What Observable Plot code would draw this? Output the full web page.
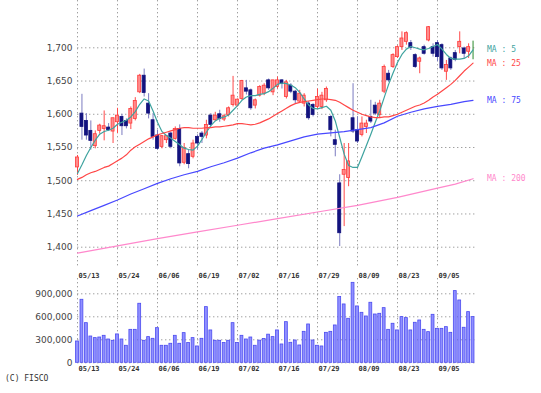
<!DOCTYPE html>
<html><head><meta charset="utf-8">
<script src="https://cdn.jsdelivr.net/npm/d3@7"></script>
<script src="https://cdn.jsdelivr.net/npm/@observablehq/plot@0.6"></script>
<style>
body{margin:0;background:#fff;}
#wrap{position:relative;width:541px;height:393px;background:#fff;overflow:hidden;}
#wrap svg{position:absolute;left:0;}
#copy{position:absolute;left:5px;top:374px;font:8px "DejaVu Sans Mono",monospace;line-height:10px;color:#333;}
</style></head><body><div id="wrap"><div id="copy">(C) FISCO</div></div>
<script>
const tickIdx = [0, 9, 18, 27, 36, 45, 54, 63, 72, 81];
const tickLabels = ["05/13","05/24","06/06","06/19","07/02","07/16","07/29","08/09","08/23","09/05"];
const priceTicks = [1400, 1450, 1500, 1550, 1600, 1650, 1700];
const volTicks = [0, 300000, 600000, 900000];

const open = [1520,1601,1590,1575,1552,1575,1578,1580,1574,1588, 1596,1590,1586,1593,1633,1658,1616,1591,1568,1551, 1561,1571,1563,1578,1527,1540,1536,1566,1571,1568, 1598,1591,1600,1592,1599,1614,1613,1623,1639,1636, 1613,1628,1631,1651,1633,1641,1651,1626,1643,1634, 1619,1616,1616,1614,1611,1611,1621,1596,1561,1496, 1509,1504,1594,1576,1569,1581,1596,1613,1599,1634, 1661,1671,1686,1701,1709,1707,1689,1679,1701,1711, 1701,1707,1704,1664,1684,1692,1701,1699,1694,1698];
const high = [1538,1630,1601,1590,1575,1585,1605,1586,1594,1609, 1600,1593,1611,1625,1660,1668,1631,1601,1576,1568, 1568,1573,1581,1584,1556,1546,1561,1569,1574,1591, 1601,1603,1606,1600,1611,1657,1623,1651,1651,1638, 1623,1643,1646,1653,1651,1656,1652,1651,1646,1636, 1636,1631,1619,1616,1638,1633,1641,1598,1576,1509, 1556,1556,1646,1596,1596,1591,1621,1618,1621,1674, 1666,1691,1703,1724,1724,1711,1691,1686,1704,1732, 1706,1711,1706,1681,1686,1696,1724,1701,1706,1710];
const low = [1508,1561,1561,1546,1548,1570,1560,1574,1556,1571, 1568,1578,1577,1590,1631,1626,1593,1561,1546,1548, 1556,1548,1561,1521,1524,1518,1533,1546,1556,1563, 1581,1589,1588,1589,1596,1611,1611,1621,1629,1606, 1608,1626,1628,1636,1628,1638,1638,1623,1631,1616, 1616,1611,1591,1596,1608,1607,1618,1566,1536,1401, 1431,1491,1571,1556,1566,1571,1586,1598,1594,1631, 1648,1669,1684,1696,1704,1696,1669,1661,1689,1709, 1686,1679,1666,1651,1666,1679,1691,1684,1684,1682];
const close = [1535,1581,1568,1560,1570,1583,1582,1576,1594,1598, 1582,1582,1608,1620,1658,1632,1601,1566,1548,1567, 1567,1551,1578,1526,1549,1525,1556,1556,1566,1584, 1584,1598,1593,1597,1609,1628,1622,1650,1634,1609, 1621,1641,1643,1639,1651,1651,1646,1648,1634,1621, 1631,1628,1594,1599,1626,1628,1638,1576,1554,1421, 1516,1529,1574,1559,1586,1586,1589,1601,1616,1671, 1651,1689,1701,1714,1722,1700,1671,1684,1691,1731, 1691,1686,1669,1674,1669,1682,1709,1691,1701,1698];
const volume = [278000,822000,517000,343000,322000,330000,352000,304000,287000,370000, 304000,222000,430000,430000,770000,287000,335000,313000,452000,222000, 222000,248000,352000,248000,387000,257000,322000,213000,313000,726000, 422000,287000,287000,257000,287000,517000,257000,352000,304000,330000, 222000,289000,311000,367000,335000,422000,239000,530000,261000,291000, 226000,404000,500000,291000,222000,213000,391000,404000,487000,857000, 761000,574000,1043000,735000,652000,604000,783000,630000,639000,713000, 430000,509000,422000,596000,583000,422000,522000,552000,430000,400000, 626000,443000,443000,465000,391000,935000,813000,457000,661000,596000];
const ma5 = [1511,1524,1538,1550,1561,1570,1574,1576,1579,1585, 1588,1591,1596,1604,1615,1623,1620,1605,1588,1574, 1568,1564,1559,1554,1549,1547,1546,1552,1562,1573, 1583,1590,1594,1596,1599,1606,1613,1621,1626,1628, 1628,1630,1631,1634,1639,1645,1647,1646,1644,1640, 1633,1623,1614,1609,1608,1610,1612,1606,1590,1565, 1540,1523,1520,1520,1536,1553,1570,1588,1605,1625, 1645,1662,1678,1690,1698,1702,1700,1698,1697,1699, 1702,1705,1698,1690,1684,1683,1683,1684,1688,1697];
const ma25 = [1502,1505,1509,1512,1514,1517,1520,1522,1526,1530, 1534,1539,1546,1551,1555,1559,1563,1566,1569,1571, 1573,1575,1577,1579,1580,1580,1579,1579,1579,1580, 1580,1581,1581,1582,1583,1584,1586,1586,1585,1584, 1585,1587,1590,1593,1597,1601,1605,1609,1613,1616, 1618,1619,1620,1621,1622,1623,1623,1622,1621,1618, 1614,1610,1606,1603,1600,1598,1596,1595,1595,1596, 1596,1598,1600,1603,1606,1609,1612,1614,1617,1621, 1626,1630,1635,1640,1645,1651,1658,1665,1671,1677];
const ma75Idx = [0,3,6,9,12,15,18,21,24,27,30,33,36,39,42,45,48,51,54,57,60,63,66,69,72,75,78,81,84,87,89];
const ma75 = [1447,1455,1463,1471,1480,1488,1496,1503,1509,1514,1521,1527,1534,1542,1549,1554,1560,1566,1570,1572,1574,1577,1580,1587,1597,1603,1608,1612,1615,1619,1621];
const ma200Idx = [0,9,18,27,36,45,54,63,72,81,85,89];
const ma200 = [1391,1402,1413,1423,1433,1443,1453,1463,1475,1489,1495,1503];
const maNames = ["MA : 5","MA : 25","MA : 75","MA : 200"];
const maColors = ["#3ea39f","#ff4747","#4848ff","#ff88cc"];

const candles = open.map((o, i) => ({i, open: o, high: high[i], low: low[i], close: close[i],
  dir: close[i] > o ? "up" : close[i] < o ? "down" : "flat"}));
const wickColor = {up: "#ff4a4a", down: "#7b7bc0", flat: "#2a8a2a"};
const bodyFill = {up: "#ff8c8c", down: "#12127e", flat: "#2a8a2a"};
const bodyStroke = {up: "#ff3838", down: "#12127e", flat: "#2a8a2a"};
const series = (arr, idx) => arr.map((v, k) => ({i: idx ? idx[k] : k, v}));
const maSeries = [series(ma5), series(ma25), series(ma75, ma75Idx), series(ma200, ma200Idx)];
const maEnds = maSeries.map((s, k) => ({i: s[s.length - 1].i, v: s[s.length - 1].v, label: maNames[k], color: maColors[k]}));
const grid = {stroke: "#a0a0a0", strokeDasharray: "1.4,2.6", strokeWidth: 1};

const p1 = Plot.plot({
  width: 541, height: 282, marginTop: 0, marginBottom: 14, marginLeft: 77, marginRight: 64,
  x: {domain: [0, 90], range: [77, 477], label: null},
  y: {domain: [1400, 1700], range: [246.7, 47.3], label: null},
  color: {type: "identity"},
  style: {background: "transparent", overflow: "visible"},
  marks: [
    Plot.ruleY(priceTicks, {y: d => d, x1: 0, x2: 90, ...grid}),
    Plot.ruleX(tickIdx, {x: d => d, ...grid}),
    Plot.axisY(priceTicks, {label: null, tickSize: 0, tickPadding: 5, tickFormat: d3.format(","), fontSize: 9, fontFamily: "DejaVu Sans", fill: "#444"}),
    Plot.axisX(tickIdx, {label: null, tickSize: 0, tickPadding: 5, tickFormat: d => tickLabels[tickIdx.indexOf(d)], textAnchor: "start", dx: 1, fontSize: 7, fontWeight: "bold", fontFamily: "DejaVu Sans Mono", fill: "#333"}),
    Plot.ruleX(candles, {x: "i", y1: "low", y2: "high", stroke: d => wickColor[d.dir], strokeWidth: 1}),
    Plot.rect(candles, {x1: d => d.i - 0.34, x2: d => d.i + 0.34, y1: "open", y2: "close", fill: d => bodyFill[d.dir], stroke: d => bodyStroke[d.dir], strokeWidth: 0.8}),
    ...maSeries.map((s, k) => Plot.line(s, {x: "i", y: "v", stroke: maColors[k], strokeWidth: 1.2})),
    Plot.text(maEnds, {x: "i", y: "v", text: "label", fill: "color", dx: 14, textAnchor: "start", fontSize: 8, fontFamily: "DejaVu Sans Mono"})
  ]
});
p1.style.top = "0px";

const vols = volume.map((v, i) => ({i, v}));
const p2 = Plot.plot({
  width: 541, height: 125, marginTop: 10, marginBottom: 30.7, marginLeft: 77, marginRight: 64,
  x: {domain: [0, 90], range: [77, 477], label: null},
  y: {domain: [0, 900000], range: [94.3, 25.3], label: null},
  style: {background: "transparent", overflow: "visible"},
  marks: [
    Plot.ruleY(volTicks, {y: d => d, x1: 0, x2: 90, ...grid}),
    Plot.ruleX(tickIdx, {x: d => d, ...grid}),
    Plot.rect(vols, {x1: d => d.i - 0.32, x2: d => d.i + 0.32, y1: 0, y2: "v", fill: "#9090ff", stroke: "#4a4af0", strokeWidth: 0.8}),
    Plot.axisY(volTicks, {label: null, tickSize: 0, tickPadding: 5, tickFormat: d3.format(","), fontSize: 9, fontFamily: "DejaVu Sans", fill: "#444"}),
    Plot.axisX(tickIdx, {label: null, tickSize: 0, tickPadding: 3, tickFormat: d => tickLabels[tickIdx.indexOf(d)], textAnchor: "start", dx: 1, fontSize: 7, fontWeight: "bold", fontFamily: "DejaVu Sans Mono", fill: "#333"})
  ]
});
p2.style.top = "268px";

const wrap = document.getElementById("wrap");
wrap.appendChild(p1);
wrap.appendChild(p2);
</script>
</body></html>
